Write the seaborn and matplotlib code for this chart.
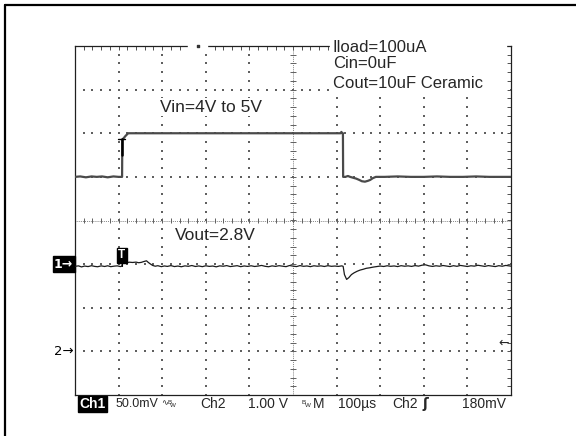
import numpy as np
import pandas as pd
import seaborn as sns
import matplotlib.pyplot as plt
import matplotlib.transforms as mtransforms
from matplotlib.patches import Rectangle
from matplotlib.lines import Line2D

# scope settings
us_per_div = 100
ch1_mv_per_div = 50.0
ch2_v_per_div = 1.0
ch1_pos_div = -1      # "1->" marker
ch2_pos_div = -3      # "2->" marker
trig_level_v = 0.18
trig_t = 108.5

# Ch2: Vin (V) vs time (us)
vin_t = [0, 12, 25, 38, 50, 62, 75, 88, 100, 108.0, 108.5, 111, 116, 122, 160, 200, 250,
         300, 350, 400, 450, 500, 550, 600, 609, 611, 613, 614.5, 615, 620, 626, 631,
         638, 645, 652, 658, 665, 672, 677, 683, 690, 710, 740, 770, 800, 830, 860,
         890, 920, 950, 980, 1000]
vin_v = [4.00, 4.01, 3.99, 4.01, 4.00, 4.01, 3.99, 4.01, 4.00, 4.00, 4.86, 4.88, 4.94, 5.00,
         5.00, 5.00, 5.00, 5.00, 5.00, 5.00, 5.00, 5.00, 5.00, 5.00, 5.00, 5.03, 5.00,
         5.00, 4.00, 4.00, 4.02, 4.00, 3.98, 3.96, 3.93, 3.90, 3.89, 3.91, 3.93, 3.97,
         4.00, 4.00, 4.01, 4.00, 4.00, 4.01, 4.00, 4.00, 4.01, 4.00, 4.00, 4.00]

# Ch1: Vout deviation from 2.8 V (mV) vs time (us)
vout_t = [0, 8, 15, 22, 30, 38, 45, 52, 60, 68, 75, 82, 90, 97, 104, 107, 109, 113, 118,
          125, 132, 140, 146, 152, 158, 164, 168, 172, 178, 184, 190, 198, 205, 212, 220,
          228, 236, 244, 252, 260, 268, 276, 284, 292, 300, 308, 316, 324, 332, 340, 348,
          356, 364, 372, 380, 388, 396, 404, 412, 420, 428, 436, 444, 452, 460, 468, 476,
          484, 492, 500, 508, 516, 524, 532, 540, 548, 556, 564, 572, 580, 588, 596, 604,
          612, 615, 618, 623, 628, 634, 640, 647, 654, 661, 668, 676, 684, 692, 700, 708,
          716, 724, 732, 740, 748, 756, 764, 772, 780, 788, 796, 804, 812, 820, 828, 836,
          844, 852, 860, 868, 876, 884, 892, 900, 908, 916, 924, 932, 940, 948, 956, 964,
          972, 980, 988, 996, 1000]
vout_mv = [-2.5, -2.0, -3.2, -2.2, -2.8, -1.8, -2.6, -3.0, -2.0, -2.7, -1.9, -2.9, -2.3,
           -2.0, -2.8, -2.5, 1.0, 2.5, 1.8, 2.2, 1.9, 2.3, 1.6, 2.0, 3.0, 3.8, 2.0, 0.5,
           -1.5, -2.4, -1.8, -2.9, -2.1, -2.6, -1.7, -2.8, -2.2, -3.0, -2.0, -2.5, -1.6,
           -2.7, -2.1, -2.9, -1.9, -2.6, -2.2, -3.1, -2.0, -2.4, -1.7, -2.8, -2.3, -1.8,
           -2.9, -2.1, -2.6, -1.9, -2.7, -2.2, -1.5, -2.5, -3.0, -2.0, -2.6, -1.8, -2.4,
           -2.9, -1.6, -2.3, -2.8, -1.7, -2.5, -2.1, -2.9, -1.9, -2.4, -2.0, -2.7, -1.8,
           -2.5, -2.2, -2.6, -2.0, -2.5, -12.0, -17.5, -15.5, -12.0, -10.0, -8.2, -6.8,
           -5.9, -4.8, -4.2, -3.4, -2.8, -2.2, -2.7, -1.9, -2.5, -2.1, -2.8, -1.8, -2.4,
           -2.0, -2.6, -1.7, -2.3, -1.2, -0.8, -2.0, -2.6, -1.9, -2.4, -1.6, -2.2, -2.8,
           -1.8, -2.5, -1.5, -2.1, -2.7, -1.9, -2.3, -1.3, -2.0, -2.6, -1.7, -2.2, -2.8,
           -1.8, -2.4, -1.5, -2.1, -2.3]

notes = ["Iload=100uA", "Cin=0uF", "Cout=10uF Ceramic"]
vin_label = "Vin=4V to 5V"
vout_label = "Vout=2.8V"

sns.set_style("white")
plt.rcParams['font.family'] = ['Liberation Sans', 'DejaVu Sans']

W, H = 576, 436
fig = plt.figure(figsize=(W / 100, H / 100), dpi=100)
ax = fig.add_axes([75 / W, 1 - 395 / H, 436 / W, 349 / H])


def fpx(x, y):
    return x / W, 1 - y / H


vin_df = pd.DataFrame({'t': vin_t, 'div': [ch2_pos_div + v / ch2_v_per_div for v in vin_v]})
vout_df = pd.DataFrame({'t': vout_t, 'div': [ch1_pos_div + m / ch1_mv_per_div for m in vout_mv]})

sns.lineplot(data=vin_df, x='t', y='div', ax=ax, color='#4a4a4a', lw=1.6,
             estimator=None, sort=False, zorder=4)
sns.lineplot(data=vout_df, x='t', y='div', ax=ax, color='#1a1a1a', lw=0.9,
             estimator=None, sort=False, zorder=4)

ax.set_xlim(0, 10 * us_per_div)
ax.set_ylim(-4, 4)
ax.set_xlabel('')
ax.set_ylabel('')

# graticule
gc = '#606060'
xs_minor = np.arange(0, 1001, us_per_div / 5)
ys_minor = np.arange(-4, 4.01, 0.2)
for k in range(1, 10):
    if k == 5:
        continue
    ax.scatter(np.full(len(ys_minor), k * us_per_div), ys_minor, s=1.2, marker='s',
               color=gc, linewidths=0, zorder=2)
for k in range(-3, 4):
    if k == 0:
        continue
    ax.scatter(xs_minor, np.full(len(xs_minor), k), s=1.2, marker='s',
               color=gc, linewidths=0, zorder=2)
ax.axhline(0, color=gc, lw=0.6, ls=(0, (1, 1.3)), zorder=2)
ax.axvline(500, color=gc, lw=0.6, ls=(0, (1, 1.3)), zorder=2)
ax.vlines(xs_minor, -0.06, 0.06, color=gc, lw=0.7, zorder=2)
ax.hlines(ys_minor, 493, 507, color=gc, lw=0.7, zorder=2)

ax.set_xticks(xs_minor)
ax.set_yticks(ys_minor)
ax.tick_params(direction='in', length=3, width=0.6, color='#333333', top=True, right=True,
               labelbottom=False, labelleft=False)
for s in ax.spines.values():
    s.set_color('#202020')
    s.set_linewidth(0.9)

# gap in top frame line
ax.add_patch(Rectangle((0.259, 0.985), 0.044, 0.03, transform=ax.transAxes,
                       color='white', clip_on=False, zorder=6))
ax.scatter([0.282], [1.0], transform=ax.transAxes, s=1.5, marker='s', color='#333',
           clip_on=False, zorder=7)

# trigger markers
ax.plot([trig_t - 10, trig_t + 6], [ch2_pos_div + 4.86] * 2, color='black', lw=1.0, zorder=5)
ax.plot([trig_t, trig_t], [ch2_pos_div + 4.86, ch2_pos_div + 4.5], color='black', lw=1.8, zorder=5)
ax.plot([trig_t - 1, trig_t - 1], [ch1_pos_div + 0.08, ch1_pos_div - 0.04], color='black', lw=0.8, zorder=5)
ax.text(trig_t - 1, ch1_pos_div + 0.2, 'T', ha='center', va='center', color='white',
        fontsize=8.5, fontweight='bold', zorder=6,
        bbox=dict(boxstyle='square,pad=0.1', fc='black', ec='black'))

# notes box top right
ax.add_patch(Rectangle((0.585, 0.86), 0.403, 0.165, transform=ax.transAxes,
                       color='white', clip_on=False, zorder=6))
for txt, ypx in zip(notes, [48, 63, 83]):
    fig.text(*fpx(333, ypx), txt, ha='left', va='center', fontsize=12, zorder=7)

ax.text(312, 2.6, vin_label, ha='center', va='center', fontsize=12.5, zorder=7,
        bbox=dict(fc='white', ec='none', pad=1))
ax.text(322, -0.34, vout_label, ha='center', va='center', fontsize=12.5, zorder=7,
        bbox=dict(fc='white', ec='none', pad=1))

# channel markers
blend = mtransforms.blended_transform_factory(ax.transAxes, ax.transData)
ax.text(-0.004, ch1_pos_div, '1\u2192', transform=blend, ha='right', va='center',
        color='white', fontsize=9, fontweight='bold', family=['DejaVu Sans'],
        bbox=dict(boxstyle='square,pad=0.1', fc='black', ec='black'), clip_on=False)
ax.text(-0.004, ch2_pos_div, '2\u2192', transform=blend, ha='right', va='center',
        color='black', fontsize=9.5, family=['DejaVu Sans'], clip_on=False)
ax.text(0.995, ch2_pos_div + trig_level_v / ch2_v_per_div, '\u2190', transform=blend,
        ha='right', va='center', fontsize=9, family=['DejaVu Sans'], zorder=7)

# status line
yb = 404
fig.text(*fpx(79, yb), 'Ch1', color='white', fontsize=10, fontweight='bold', va='center',
         bbox=dict(boxstyle='square,pad=0.1', fc='black', ec='black'))
fig.text(*fpx(116, yb), '50.0mV', fontsize=9, va='center')
fig.text(*fpx(161, yb - 1), '\u223f', fontsize=6, va='center', family=['DejaVu Sans'])
fig.text(*fpx(167, yb - 2), 'B', fontsize=4.5, va='center')
fig.text(*fpx(170, yb + 1), 'W', fontsize=4.5, va='center')
fig.text(*fpx(200, yb), 'Ch2', fontsize=10, va='center')
fig.text(*fpx(248, yb), '1.00 V', fontsize=10, va='center')
fig.text(*fpx(302, yb - 2), 'B', fontsize=4.5, va='center')
fig.text(*fpx(305, yb + 1), 'W', fontsize=4.5, va='center')
fig.text(*fpx(313, yb), 'M', fontsize=10, va='center')
fig.text(*fpx(338, yb), '100\u00b5s', fontsize=10, va='center')
fig.text(*fpx(392, yb), 'Ch2', fontsize=10, va='center')
fig.text(*fpx(423, yb), '\u0283', fontsize=10, fontweight='bold', va='center',
         family=['DejaVu Sans'])
fig.text(*fpx(462, yb), '180mV', fontsize=10, va='center')

# outer frame (left and top)
fig.add_artist(Line2D([5 / W, 5 / W], [0, 1 - 5 / H], color='black', lw=1.6,
                      transform=fig.transFigure))
fig.add_artist(Line2D([5 / W, 1], [1 - 5 / H, 1 - 5 / H], color='black', lw=1.6,
                      transform=fig.transFigure))

fig.savefig('out.png', dpi=100)
